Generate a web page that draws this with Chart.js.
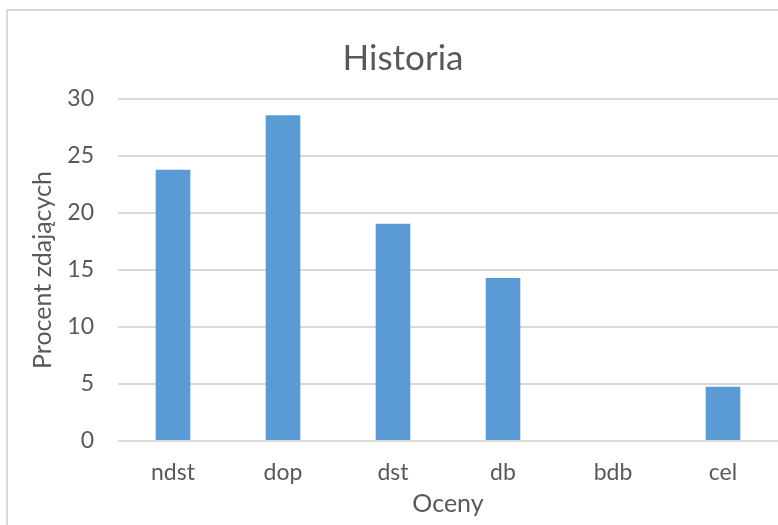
<!DOCTYPE html>
<html>
<head>
<meta charset="utf-8">
<script src="https://cdn.jsdelivr.net/npm/chart.js@4/dist/chart.umd.min.js"></script>
<style>
  html, body { margin: 0; padding: 0; background: #fff; overflow: hidden; }
  #frame { position: absolute; left: 6px; top: 9px; width: 900px; height: 700px; border: 2px solid #d9d9d9; box-sizing: border-box; }
  #wrap { position: absolute; left: 0; top: 0; width: 778px; height: 525px; }
</style>
</head>
<body>
<div id="frame"></div>
<div id="wrap"><canvas id="chart" width="778" height="525"></canvas></div>
<script>
'use strict';

const CATEGORIES = ['ndst', 'dop', 'dst', 'db', 'bdb', 'cel'];
const PERCENT = [23.8, 28.57, 19.05, 14.29, 0, 4.76];
const Y_MIN = 0;
const Y_MAX = 30;
const Y_STEP = 5;

const TEXT = '#595959';
const GRID = '#d9d9d9';
const BAR = '#5b9bd5';
const FONT = 'Lato, "Open Sans", sans-serif';

new Chart(document.getElementById('chart'), {
  type: 'bar',
  data: {
    labels: CATEGORIES,
    datasets: [{
      data: PERCENT,
      backgroundColor: BAR,
      barPercentage: 0.315,
      categoryPercentage: 1,
    }],
  },
  options: {
    responsive: false,
    animation: false,
    layout: { padding: { left: 28, right: 0, top: 38, bottom: 0 } },
    plugins: {
      legend: { display: false },
      tooltip: { enabled: false },
      title: {
        display: true,
        text: 'Historia',
        color: TEXT,
        font: { family: FONT, size: 35, weight: 'normal' },
        padding: { top: 0, bottom: 19 },
      },
    },
    scales: {
      x: {
        grid: { display: false },
        border: { display: false },
        ticks: { color: TEXT, font: { family: FONT, size: 23 }, padding: 10 },
        title: {
          display: true,
          text: 'Oceny',
          color: TEXT,
          font: { family: FONT, size: 25 },
          padding: { top: 0, bottom: 6 },
        },
        afterFit(scale) { scale.height = 84; },
      },
      y: {
        min: Y_MIN,
        max: Y_MAX,
        ticks: { stepSize: Y_STEP, color: TEXT, font: { family: FONT, size: 23 }, padding: 24 },
        grid: { color: GRID, lineWidth: 2, drawTicks: false },
        border: { display: false },
        title: {
          display: true,
          text: 'Procent zdających',
          color: TEXT,
          font: { family: FONT, size: 25 },
          padding: { top: 0, bottom: 0 },
        },
        afterFit(scale) { scale.width = 90; },
      },
    },
  },
});
</script>
</body>
</html>
